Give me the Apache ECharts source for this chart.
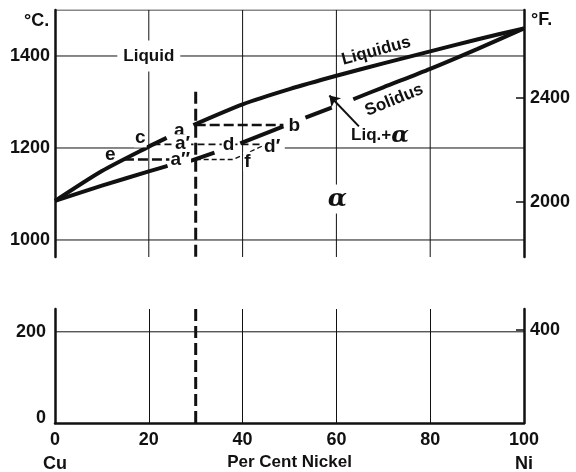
<!DOCTYPE html>
<html><head><meta charset="utf-8">
<script src="https://cdn.jsdelivr.net/npm/echarts@6/dist/echarts.min.js"></script>
<style>html,body{margin:0;padding:0;background:#fff}#c{width:576px;height:472px}</style>
</head><body><div id="c"></div>
<script>
// ---- data ----
const xTicks = [0, 20, 40, 60, 80, 100];
const upperTicksC = [1000, 1200, 1400];
const lowerTicksC = [0, 200];
const upperTicksF = [2000, 2400];
const lowerTicksF = [400];
// liquidus / solidus (null = break in the drawn line)
const liquidusX = [0, 10, 20, 23.8, null, 29.5, 40, 50, 60, 70, 80, 90, 100];
const liquidusT = [1085, 1150, 1203, 1222, null, 1250, 1295, 1328, 1357, 1384, 1410, 1436, 1460];
const solidusX = [0, 10, 20, 24, null, 28.9, 34, null, 39.5, 48.7, null, 53.4, 59, null, 63.6, 70, 80, 90, 100];
const solidusT = [1085, 1118, 1149, 1161, null, 1172, 1190, null, 1210, 1247, null, 1266, 1288, null, 1306, 1332, 1372, 1415, 1460];
// alloy composition line
const alloyX = 30;
const alloyTopT = 1322;
// tie lines
const tieAB_X = [30, 48.7], tieAB_T = [1250, 1250];
const tieCD_X = [21, 45], tieCD_T = [1208, 1208];
const tieEA_X = [14.7, 30], tieEA_T = [1175, 1175];
const nonEqX = [30, 38, 45], nonEqT = [1175, 1175, 1208];
// point letters
const ptText = ['c', 'e', 'a', 'a′', 'a″', 'b', 'd', 'd′', 'f'];
const ptX = [18.2, 11.8, 26.5, 27.2, 26.7, 51, 37, 46.3, 41];
const ptT = [1222, 1185, 1237, 1209, 1174, 1248, 1208, 1203, 1171];
// arrow for Liq.+alpha
const arrowX = [64.8, 58.5], arrowT = [1247, 1314];

const C_MIN = 963, C_MAX = 1500, L_MIN = 0, L_MAX = 250;
const F_UP_MIN = 1788, F_UP_MAX = 2738, F_LO_MIN = 32, F_LO_MAX = 482;
const FONT = '"Liberation Sans", Arial, sans-serif';
const INK = '#111';

function segments(xs, ts) {
  const out = []; let cur = [];
  xs.forEach((x, i) => {
    if (x === null) { if (cur.length) out.push(cur); cur = []; }
    else cur.push([x, ts[i]]);
  });
  if (cur.length) out.push(cur);
  return out;
}
function pairs(xs, ts) { return xs.map((x, i) => [x, ts[i]]); }
function lineS(data, opt) {
  return Object.assign({
    type: 'line', data: data, symbol: 'none', silent: true, animation: false,
    xAxisIndex: 0, yAxisIndex: 0, z: 2,
    lineStyle: { color: INK, width: 1, type: 'solid' }
  }, opt);
}

const series = [];
// upper grid lines
[20, 40, 60, 80].forEach(v => series.push(lineS([[v, C_MIN], [v, C_MAX]], {})));
[1000, 1400, C_MAX].forEach(v => series.push(lineS([[0, v], [100, v]], {})));
series.push(lineS([[0, 1200], [19.5, 1200]], {}));
series.push(lineS([[49, 1200], [100, 1200]], {}));
// lower grid horizontal line
series.push(lineS([[0, 200], [100, 200]], { xAxisIndex: 1, yAxisIndex: 2 }));

// liquidus & solidus
segments(liquidusX, liquidusT).forEach(s => series.push(lineS(s, { z: 4, smooth: 0.25, lineStyle: { color: INK, width: 4, cap: 'butt' } })));
segments(solidusX, solidusT).forEach(s => series.push(lineS(s, { z: 4, smooth: 0.25, lineStyle: { color: INK, width: 4, cap: 'butt' } })));

// alloy vertical dashed line
series.push(lineS([[alloyX, alloyTopT], [alloyX, C_MIN]], { z: 4, lineStyle: { color: INK, width: 3, type: [12, 5] } }));
series.push(lineS([[alloyX, L_MIN], [alloyX, L_MAX]], { xAxisIndex: 1, yAxisIndex: 2, z: 4, lineStyle: { color: INK, width: 3, type: [12, 5] } }));

// tie lines
series.push(lineS(pairs(tieAB_X, tieAB_T), { z: 3, lineStyle: { color: INK, width: 2.6, type: [10, 4] } }));
series.push(lineS(pairs(tieCD_X, tieCD_T), { z: 3, lineStyle: { color: INK, width: 1.8, type: [7, 4] } }));
series.push(lineS(pairs(tieEA_X, tieEA_T), { z: 3, lineStyle: { color: INK, width: 2.6, type: [10, 4] } }));
series.push(lineS(pairs(nonEqX, nonEqT), { z: 3, lineStyle: { color: INK, width: 1.3, type: [5, 3] } }));

// arrow
series.push({
  type: 'line', data: [], xAxisIndex: 0, yAxisIndex: 0, silent: true, animation: false,
  markLine: {
    silent: true, animation: false, symbol: ['none', 'arrow'], symbolSize: 10,
    label: { show: false },
    lineStyle: { color: INK, width: 2, type: 'solid', curveness: -0.12 },
    data: [[{ coord: [arrowX[0], arrowT[0]] }, { coord: [arrowX[1], arrowT[1]] }]]
  }
});

// text labels
const base = { position: [0, 0], align: 'center', verticalAlign: 'middle', color: INK, opacity: 1, textBorderWidth: 0 };
const bigLbl = Object.assign({ fontFamily: FONT, fontWeight: 'bold', fontSize: 17 }, base);
const ptLbl = Object.assign({ fontFamily: FONT, fontWeight: 'bold', fontSize: 19 }, base);
const textItems = [
  { value: [20, 1400], label: Object.assign({ formatter: 'Liquid', backgroundColor: '#fff', padding: [7, 6] }, bigLbl) },
  { value: [68.5, 1411], label: Object.assign({ formatter: 'Liquidus', rotate: 15 }, bigLbl) },
  { value: [72.3, 1304], label: Object.assign({ formatter: 'Solidus', rotate: 22 }, bigLbl) },
  { value: [69.3, 1227], label: Object.assign({ formatter: 'Liq.+{al|α}', rich: { al: { fontFamily: '"DejaVu Serif", serif', fontStyle: 'italic', fontWeight: 'bold', fontSize: 23, color: INK } } }, bigLbl) },
  { value: [60.2, 1089], label: Object.assign({ formatter: 'α', fontFamily: '"DejaVu Serif", serif', fontStyle: 'italic', fontWeight: 'bold', fontSize: 25, backgroundColor: '#fff', padding: [2, 3] }, base) }
];
ptText.forEach((t, i) => {
  const bg = (t === 'e' || t === 'b' || t === 'a') ? null : '#fff';
  textItems.push({ value: [ptX[i], ptT[i]], label: Object.assign({ formatter: t, backgroundColor: bg, padding: [0, 1] }, ptLbl) });
});
series.push({
  type: 'scatter', data: textItems, xAxisIndex: 0, yAxisIndex: 0, symbolSize: 0, silent: true, animation: false, z: 6,
  itemStyle: { color: INK, opacity: 1 },
  label: Object.assign({ show: true }, base)
});

const tickLbl = { fontFamily: FONT, fontWeight: 'bold', fontSize: 18, color: INK };
const plain = v => String(v);

const option = {
  animation: false,
  backgroundColor: '#fff',
  grid: [
    { left: 55, right: 52, top: 10, height: 247, outerBoundsMode: 'none', containLabel: false },
    { left: 55, right: 52, top: 309, height: 114, outerBoundsMode: 'none', containLabel: false }
  ],
  xAxis: [
    { type: 'value', gridIndex: 0, min: 0, max: 100, show: true,
      axisLine: { show: false }, axisTick: { show: false }, axisLabel: { show: false }, splitLine: { show: false } },
    { type: 'value', gridIndex: 1, min: 0, max: 100, interval: 20,
      axisLine: { show: true, onZero: false, lineStyle: { color: INK, width: 2.5 } },
      axisTick: { show: false },
      splitLine: { show: true, lineStyle: { color: INK, width: 1 } },
      axisLabel: Object.assign({ margin: 5, lineHeight: 24,
        customValues: xTicks,
        formatter: v => v === 0 ? '0\nCu' : (v === 100 ? '100\nNi' : String(v)) }, tickLbl),
      name: 'Per Cent Nickel', nameLocation: 'middle', nameGap: 39, nameMoveOverlap: false,
      nameTextStyle: { fontFamily: FONT, fontWeight: 'bold', fontSize: 17, color: INK, verticalAlign: 'middle' } }
  ],
  yAxis: [
    { type: 'value', gridIndex: 0, min: C_MIN, max: C_MAX, position: 'left',
      axisLine: { show: true, lineStyle: { color: INK, width: 2.5 } },
      axisTick: { show: false }, splitLine: { show: false },
      axisLabel: Object.assign({ margin: 5, customValues: upperTicksC, formatter: plain }, tickLbl) },
    { type: 'value', gridIndex: 0, min: F_UP_MIN, max: F_UP_MAX, position: 'right',
      axisLine: { show: true, lineStyle: { color: INK, width: 2.5 } },
      axisTick: { show: true, inside: true, length: 8, customValues: upperTicksF, lineStyle: { color: INK, width: 1.5 } },
      splitLine: { show: false },
      axisLabel: Object.assign({ margin: 6, customValues: upperTicksF, formatter: plain }, tickLbl) },
    { type: 'value', gridIndex: 1, min: L_MIN, max: L_MAX, position: 'left',
      axisLine: { show: true, onZero: false, lineStyle: { color: INK, width: 2.5 } },
      axisTick: { show: false }, splitLine: { show: false },
      axisLabel: Object.assign({ margin: 9, customValues: lowerTicksC,
        formatter: v => v === 0 ? '{lo|0}' : String(v),
        rich: { lo: Object.assign({ padding: [0, 0, 10, 0] }, tickLbl) } }, tickLbl) },
    { type: 'value', gridIndex: 1, min: F_LO_MIN, max: F_LO_MAX, position: 'right',
      axisLine: { show: true, onZero: false, lineStyle: { color: INK, width: 2.5 } },
      axisTick: { show: true, inside: true, length: 8, customValues: lowerTicksF, lineStyle: { color: INK, width: 1.5 } },
      splitLine: { show: false },
      axisLabel: Object.assign({ margin: 6, customValues: lowerTicksF, formatter: plain }, tickLbl) }
  ],
  graphic: [
    { type: 'text', left: 24, top: 12, style: { text: '°C.', font: 'bold 18px ' + FONT, fill: INK } },
    { type: 'text', left: 531, top: 11, style: { text: '°F.', font: 'bold 18px ' + FONT, fill: INK } }
  ],
  series: series
};
const chart = echarts.init(document.getElementById('c'), null, { renderer: 'canvas' });
chart.setOption(option);
</script></body></html>
